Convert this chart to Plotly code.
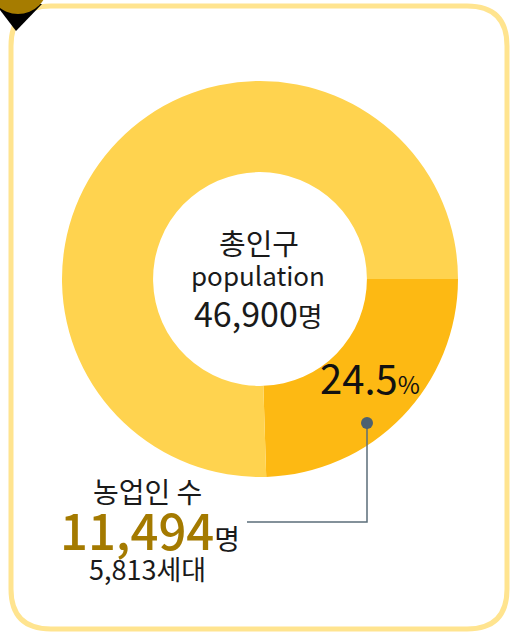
import plotly.graph_objects as go

W, H = 511, 634

# Data
labels = ["농업인", "비농업인"]
shares = [24.5, 75.5]
colors = ["#FDB913", "#FFD34F"]
total_title = "총인구"
total_sub = "population"
total_value = "46,900"
farm_title = "농업인 수"
farm_value = "11,494"
farm_households = "5,813"
farm_share_label = "24.5"

FONT = "Noto Sans CJK KR"

fig = go.Figure()

cx0, cx1 = 62, 458
cy0, cy1 = 80, 478
fig.add_trace(go.Pie(
    labels=labels, values=shares, sort=False, direction="clockwise", rotation=90,
    hole=0.54, marker=dict(colors=colors, line=dict(width=0)),
    textinfo="none", hoverinfo="none", showlegend=False,
    domain=dict(x=[cx0 / W, cx1 / W], y=[1 - cy1 / H, 1 - cy0 / H]),
))

# pixel-coordinate overlay axes
fig.update_layout(
    width=W, height=H, margin=dict(l=0, r=0, t=0, b=0),
    paper_bgcolor="white", plot_bgcolor="rgba(0,0,0,0)",
    xaxis=dict(range=[0, W], visible=False, fixedrange=True),
    yaxis=dict(range=[H, 0], visible=False, fixedrange=True),
    showlegend=False,
)

# rounded border
x0, y0, x1, y1, r = 11, 6, 507, 629, 40
path = (f"M {x0+r},{y0} L {x1-r},{y0} Q {x1},{y0} {x1},{y0+r} "
        f"L {x1},{y1-r} Q {x1},{y1} {x1-r},{y1} L {x0+r},{y1} "
        f"Q {x0},{y1} {x0},{y1-r} L {x0},{y0+r} Q {x0},{y0} {x0+r},{y0} Z")
shapes = [
    dict(type="path", path=path, xref="x", yref="y",
         line=dict(color="#FFE48F", width=5), fillcolor="rgba(0,0,0,0)", layer="below"),
    # pin marker in top-left corner
    dict(type="path", path="M 0,10 L 16,31 L 42,4 L 0,4 Z", xref="x", yref="y",
         line=dict(width=0), fillcolor="#000000"),
    dict(type="circle", x0=-12, y0=-46, x1=48, y1=14, xref="x", yref="y",
         line=dict(width=0), fillcolor="#A67C00"),
    # leader line
    dict(type="path", path="M 367,423 L 367,522 L 247,522", xref="x", yref="y",
         line=dict(color="#5B6E79", width=1.5)),
    dict(type="circle", x0=361, y0=417, x1=373, y1=429, xref="x", yref="y",
         line=dict(width=0), fillcolor="#4D6170"),
]
fig.update_layout(shapes=shapes)

def ann(x, y, text, size, color="#1a1a1a"):
    fig.add_annotation(x=x, y=y, xref="x", yref="y", text=text, showarrow=False,
                       xanchor="center", yanchor="middle", align="center",
                       borderpad=0, font=dict(family=FONT, size=size, color=color))

ann(259, 242, total_title, 29)
ann(258, 274, total_sub, 26)
ann(258, 312, f"{total_value}<span style='font-size:27px'>명</span>", 34)
ann(370, 377, f"{farm_share_label}<span style='font-size:24px'>%</span>", 40, color="#111111")
ann(147, 491, farm_title, 28)
ann(150, 528, f"<span style='font-weight:500'>{farm_value}</span>"
              f"<span style='font-size:28px;color:#1a1a1a'>명</span>", 49, color="#A47A00")
ann(147, 568, f"{farm_households}세대", 27)

fig.write_html("out.html", config={"displayModeBar": False},
               post_script="document.body.style.margin='0';")
